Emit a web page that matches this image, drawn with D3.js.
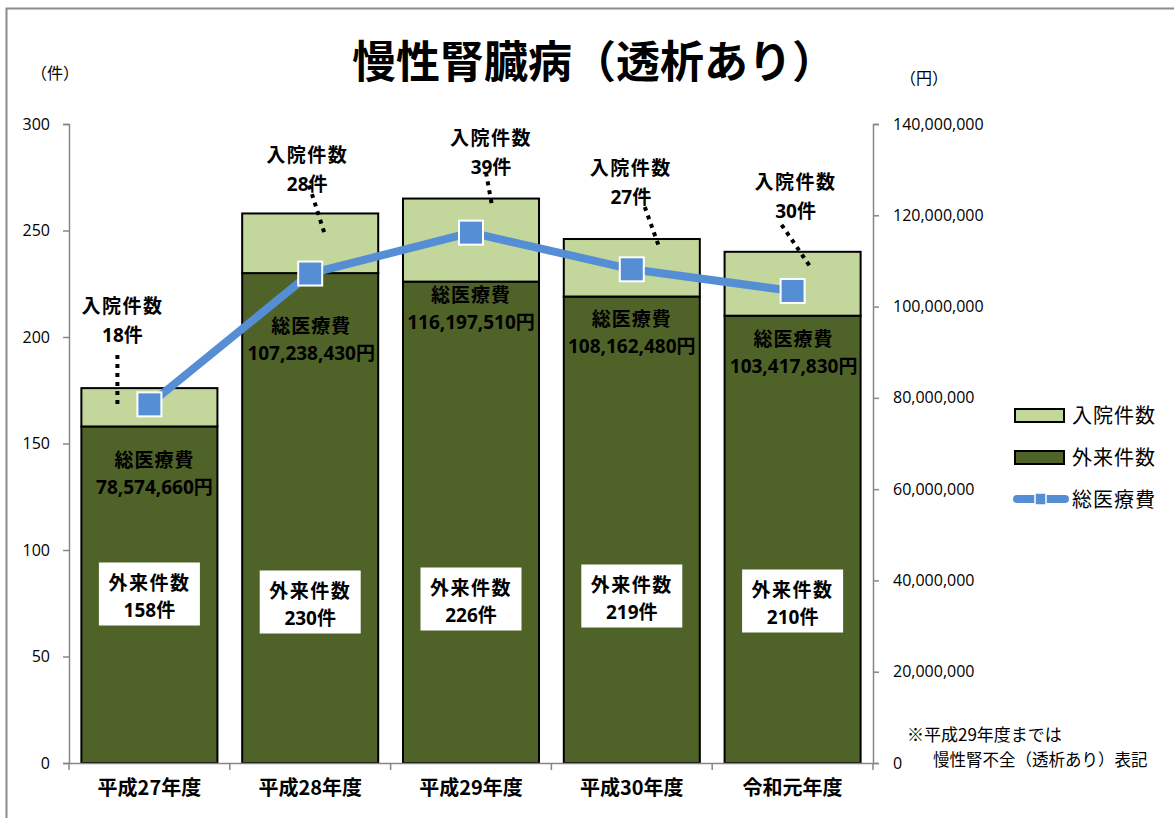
<!DOCTYPE html>
<html>
<head>
<meta charset="utf-8">
<script src="https://cdn.jsdelivr.net/npm/d3@7"></script>
<style>
  body { margin: 0; background: #fff; }
  text { font-family: "Open Sans", "Noto Sans CJK JP", sans-serif; }
</style>
</head>
<body>
<div id="main"></div>
<script>
// data
var years = ["平成27年度", "平成28年度", "平成29年度", "平成30年度", "令和元年度"];
var outpatient = [158, 230, 226, 219, 210];
var inpatient = [18, 28, 39, 27, 30];
var totalCost = [78574660, 107238430, 116197510, 108162480, 103417830];
var leftTicks = [0, 50, 100, 150, 200, 250, 300];
var rightTicks = [0, 20000000, 40000000, 60000000, 80000000, 100000000, 120000000, 140000000];
var legendNames = ["入院件数", "外来件数", "総医療費"];

// where the hand-placed callouts sit, relative to their bar
var inLabelOff = [
  { dx: -27, dy: -82, l: [-32, -33, -32, 20] },
  { dx: -3, dy: -58, l: [-1, -28, 14, 19] },
  { dx: 20, dy: -61, l: [15, -26, 21, 7] },
  { dx: -1, dy: -71, l: [13, -32, 28, 10] },
  { dx: 3, dy: -70, l: [-11, -27, 17, 14] }
];
var costLabelOff = [{ dx: 5, dy: 34 }, { dx: 1, dy: 53 }, { dx: 0, dy: 13 }, { dx: 0, dy: 22 }, { dx: 1, dy: 23 }];
var boxOff = [-169, -161, -164, -167, -162];

var W = 1174, H = 818;
var margin = { top: 124, left: 69, right: 301, bottom: 55 };
var w = W - margin.left - margin.right,
    h = H - margin.top - margin.bottom;

var svg = d3.select("#main").append("svg")
  .attr("width", W).attr("height", H);

// outer frame
svg.append("rect")
  .attr("x", 6.5).attr("y", 8.5).attr("width", W + 10).attr("height", H + 10)
  .attr("fill", "none").attr("stroke", "#8c8c8c").attr("stroke-width", 2);

svg.append("text")
  .attr("x", 594).attr("y", 78)
  .attr("text-anchor", "middle")
  .attr("font-size", "44px").attr("font-weight", "bold")
  .style("font-family", "'Noto Sans CJK JP', sans-serif")
  .text("慢性腎臓病（透析あり）");

var g = svg.append("g").attr("transform", "translate(" + margin.left + "," + margin.top + ")");

var x = d3.scaleBand().domain(years).range([0, w]).paddingInner(0.154).paddingOuter(0.077);
var y = d3.scaleLinear().domain([0, 300]).range([h, 0]);
var y2 = d3.scaleLinear().domain([0, 140000000]).range([h, 0]);

var axisColor = "#868686";

// left axis
var yAxis = g.append("g")
  .call(d3.axisLeft(y).tickValues(leftTicks).tickSize(6).tickPadding(13));
yAxis.select(".domain").attr("stroke", axisColor).attr("stroke-width", 1.5);
yAxis.selectAll(".tick line").attr("stroke", axisColor).attr("stroke-width", 1.5);
yAxis.selectAll("text").attr("font-size", "16px").attr("fill", "#000")
  .style("font-family", "'Open Sans', sans-serif");

// right axis
var y2Axis = g.append("g").attr("transform", "translate(" + w + ",0)")
  .call(d3.axisRight(y2).tickValues(rightTicks).tickSize(6).tickPadding(14).tickFormat(d3.format(",")));
y2Axis.select(".domain").attr("stroke", axisColor).attr("stroke-width", 1.5);
y2Axis.selectAll(".tick line").attr("stroke", axisColor).attr("stroke-width", 1.5);
y2Axis.selectAll("text").attr("font-size", "16px").attr("fill", "#000")
  .style("font-family", "'Open Sans', sans-serif");

// unit labels
svg.append("text").attr("x", 55).attr("y", 79).attr("text-anchor", "middle")
  .attr("font-size", "16px").style("font-family", "'Noto Sans CJK JP'").text("（件）");
svg.append("text").attr("x", 924).attr("y", 84).attr("text-anchor", "middle")
  .attr("font-size", "16px").style("font-family", "'Noto Sans CJK JP'").text("（円）");

// stacked bars
var bars = g.selectAll(".bar").data(years).enter().append("g").attr("class", "bar");
bars.append("rect")
  .attr("x", function(d) { return x(d); })
  .attr("width", x.bandwidth())
  .attr("y", function(d, i) { return y(outpatient[i]); })
  .attr("height", function(d, i) { return h - y(outpatient[i]); })
  .attr("fill", "#4f6228").attr("stroke", "#000").attr("stroke-width", 2);
bars.append("rect")
  .attr("x", function(d) { return x(d); })
  .attr("width", x.bandwidth())
  .attr("y", function(d, i) { return y(outpatient[i] + inpatient[i]); })
  .attr("height", function(d, i) { return y(outpatient[i]) - y(outpatient[i] + inpatient[i]); })
  .attr("fill", "#c3d69b").attr("stroke", "#000").attr("stroke-width", 2);

// x axis
var xAxis = g.append("g").attr("transform", "translate(0," + h + ")")
  .call(d3.axisBottom(x).tickSize(0).tickPadding(18));
xAxis.select(".domain").attr("stroke", axisColor).attr("stroke-width", 1.5);
xAxis.selectAll("text").attr("font-size", "20px").attr("font-weight", "bold").attr("fill", "#000")
  .style("font-family", "'Noto Sans CJK JP', sans-serif");
var step = x.step();
d3.range(years.length + 1).forEach(function(i) {
  xAxis.append("line").attr("x1", i * step).attr("x2", i * step).attr("y1", 0).attr("y2", 7)
    .attr("stroke", axisColor).attr("stroke-width", 1.5);
});

function cx(i) { return x(years[i]) + x.bandwidth() / 2; }

// dotted leader lines + inpatient labels
years.forEach(function(d, i) {
  var top = y(outpatient[i] + inpatient[i]);
  var o = inLabelOff[i];
  g.append("line")
    .attr("x1", cx(i) + o.l[0]).attr("y1", top + o.l[1])
    .attr("x2", cx(i) + o.l[2]).attr("y2", top + o.l[3])
    .attr("stroke", "#000").attr("stroke-width", 4).attr("stroke-dasharray", "4,5");
  var t = g.append("text").attr("text-anchor", "middle")
    .attr("font-size", "19px").attr("font-weight", "bold");
  t.append("tspan").attr("x", cx(i) + o.dx).attr("y", top + o.dy + 7)
    .style("font-family", "'Noto Sans CJK JP'").attr("letter-spacing", "1.5px").text("入院件数");
  t.append("tspan").attr("x", cx(i) + o.dx).attr("y", top + o.dy + 36).text(inpatient[i] + "件");
});

// cost labels inside bars
years.forEach(function(d, i) {
  var top = y(outpatient[i]);
  var o = costLabelOff[i];
  var t = g.append("text").attr("text-anchor", "middle")
    .attr("font-size", "19px").attr("font-weight", "bold").attr("fill", "#000");
  t.append("tspan").attr("x", cx(i) + o.dx).attr("y", top + o.dy + 7)
    .style("font-family", "'Noto Sans CJK JP'").attr("letter-spacing", "1px").text("総医療費");
  t.append("tspan").attr("x", cx(i) + o.dx).attr("y", top + o.dy + 34)
    .text(d3.format(",")(totalCost[i]) + "円");
});

// outpatient boxes
years.forEach(function(d, i) {
  var cy = h + boxOff[i];
  g.append("rect").attr("x", cx(i) - 50.5).attr("y", cy - 31.5).attr("width", 101).attr("height", 63)
    .attr("fill", "#fff");
  var t = g.append("text").attr("text-anchor", "middle")
    .attr("font-size", "19px").attr("font-weight", "bold");
  t.append("tspan").attr("x", cx(i)).attr("y", cy - 4)
    .style("font-family", "'Noto Sans CJK JP'").attr("letter-spacing", "1.5px").text("外来件数");
  t.append("tspan").attr("x", cx(i)).attr("y", cy + 23).text(outpatient[i] + "件");
});

// cost line
var line = d3.line()
  .x(function(d, i) { return cx(i); })
  .y(function(d) { return y2(d); });
g.append("path").datum(totalCost)
  .attr("d", line).attr("fill", "none")
  .attr("stroke", "#558ed5").attr("stroke-width", 8);
g.selectAll(".marker").data(totalCost).enter().append("rect")
  .attr("class", "marker")
  .attr("x", function(d, i) { return cx(i) - 12; })
  .attr("y", function(d) { return y2(d) - 12; })
  .attr("width", 24).attr("height", 24)
  .attr("fill", "#558ed5").attr("stroke", "#fff").attr("stroke-width", 2);

// legend
var lg = svg.append("g").attr("transform", "translate(1015,0)");
lg.append("rect").attr("x", 0).attr("y", 409).attr("width", 49).attr("height", 13)
  .attr("fill", "#c3d69b").attr("stroke", "#000").attr("stroke-width", 2);
lg.append("rect").attr("x", 0).attr("y", 451).attr("width", 49).attr("height", 13)
  .attr("fill", "#4f6228").attr("stroke", "#000").attr("stroke-width", 2);
lg.append("line").attr("x1", 2).attr("x2", 50).attr("y1", 499).attr("y2", 499)
  .attr("stroke", "#558ed5").attr("stroke-width", 8).attr("stroke-linecap", "round");
lg.append("rect").attr("x", 20).attr("y", 493).attr("width", 11).attr("height", 12)
  .attr("fill", "#558ed5").attr("stroke", "#fff").attr("stroke-width", 1.5);
lg.selectAll(".ltext").data(legendNames).enter().append("text")
  .attr("x", 57).attr("y", function(d, i) { return 423 + i * 42; })
  .attr("font-size", "20px").attr("letter-spacing", "1px")
  .style("font-family", "'Noto Sans CJK JP'")
  .text(function(d) { return d; });

// footnote
svg.append("text").attr("x", 907).attr("y", 741).attr("font-size", "17px")
  .style("font-family", "'Noto Sans CJK JP'").text("※平成29年度までは");
svg.append("text").attr("x", 933).attr("y", 766).attr("font-size", "16.5px")
  .style("font-family", "'Noto Sans CJK JP'").text("慢性腎不全（透析あり）表記");
</script>
</body>
</html>
